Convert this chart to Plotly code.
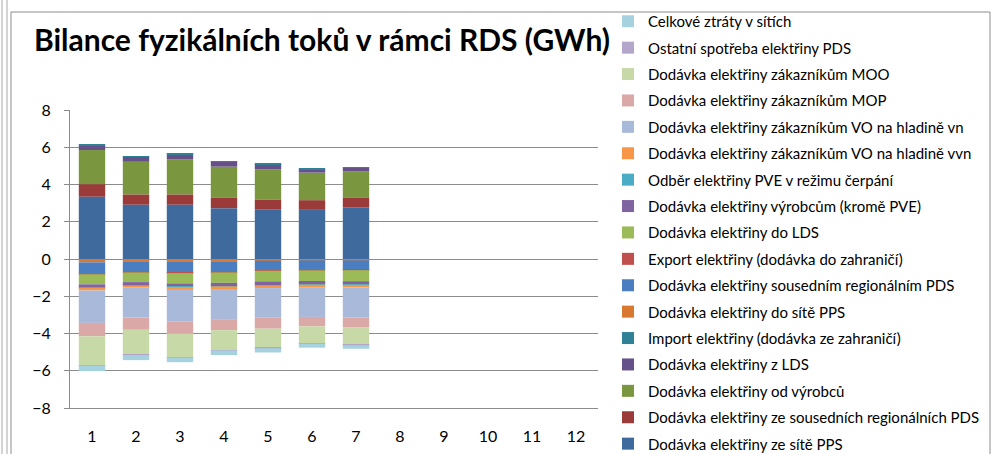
import plotly.graph_objects as go

months = ["1", "2", "3", "4", "5", "6", "7", "8", "9", "10", "11", "12"]

# values for months 1-7 (GWh); months 8-12 have no data
ze_site_pps = [3.35, 2.92, 2.92, 2.73, 2.67, 2.64, 2.78]
ze_sousednich_pds = [0.67, 0.55, 0.55, 0.55, 0.53, 0.52, 0.53]
od_vyrobcu = [1.83, 1.75, 1.89, 1.68, 1.62, 1.48, 1.39]
z_lds = [0.26, 0.27, 0.27, 0.27, 0.27, 0.18, 0.20]
import_ze_zahranici = [0.03, 0.03, 0.03, 0.03, 0.03, 0.03, 0.03]
do_site_pps = [-0.18, -0.12, -0.12, -0.12, -0.09, -0.07, -0.07]
sousednim_pds = [-0.63, -0.59, -0.63, -0.59, -0.53, -0.53, -0.52]
export_do_zahranici = [-0.01, -0.01, -0.01, -0.01, -0.01, -0.01, -0.01]
do_lds = [-0.54, -0.52, -0.55, -0.56, -0.57, -0.57, -0.59]
vyrobcum = [-0.18, -0.18, -0.18, -0.18, -0.21, -0.19, -0.19]
odber_pve = [-0.01, -0.01, -0.01, -0.01, -0.01, -0.01, -0.01]
vo_vvn = [-0.14, -0.11, -0.16, -0.14, -0.14, -0.16, -0.14]
vo_vn = [-1.74, -1.60, -1.69, -1.62, -1.57, -1.57, -1.62]
mop = [-0.72, -0.66, -0.64, -0.59, -0.61, -0.51, -0.53]
moo = [-1.55, -1.34, -1.28, -1.07, -1.03, -0.91, -0.93]
ostatni_spotreba = [-0.02, -0.02, -0.02, -0.02, -0.02, -0.02, -0.02]
celkove_ztraty = [-0.30, -0.27, -0.25, -0.25, -0.23, -0.21, -0.19]

series = [
    ("Dodávka elektřiny ze sítě PPS", ze_site_pps, "#3E6A9E"),
    ("Dodávka elektřiny ze sousedních regionálních PDS", ze_sousednich_pds, "#9B3B39"),
    ("Dodávka elektřiny od výrobců", od_vyrobcu, "#7A963F"),
    ("Dodávka elektřiny z LDS", z_lds, "#65508A"),
    ("Import elektřiny (dodávka ze zahraničí)", import_ze_zahranici, "#2F8196"),
    ("Dodávka elektřiny do sítě PPS", do_site_pps, "#D9792F"),
    ("Dodávka elektřiny sousedním regionálním PDS", sousednim_pds, "#4A7EC0"),
    ("Export elektřiny (dodávka do zahraničí)", export_do_zahranici, "#C0504D"),
    ("Dodávka elektřiny do LDS", do_lds, "#9BBB59"),
    ("Dodávka elektřiny výrobcům (kromě PVE)", vyrobcum, "#8064A2"),
    ("Odběr elektřiny PVE v režimu čerpání", odber_pve, "#4BACC6"),
    ("Dodávka elektřiny zákazníkům VO na hladině vvn", vo_vvn, "#F79646"),
    ("Dodávka elektřiny zákazníkům VO na hladině vn", vo_vn, "#A9B9DA"),
    ("Dodávka elektřiny zákazníkům MOP", mop, "#D9A8A7"),
    ("Dodávka elektřiny zákazníkům MOO", moo, "#C8D9A8"),
    ("Ostatní spotřeba elektřiny PDS", ostatni_spotreba, "#B3A6CA"),
    ("Celkové ztráty v sítích", celkove_ztraty, "#A6D1DE"),
]

fig = go.Figure()
n = len(series)
for i, (name, vals, color) in enumerate(series):
    y = list(vals) + [None] * (len(months) - len(vals))
    fig.add_trace(go.Bar(
        x=months, y=y, name=name, marker_color=color,
        marker_line_width=0, legendgroup=str(i), legendrank=n - i,
    ))

W, H = 993, 454
L, R, T, B = 70, 395, 110, 46
pw, ph = W - L - R, H - T - B

def px(x):
    return (x - L) / pw

def py(y):
    return (H - B - y) / ph

line_col = "#A6A6A6"
shapes = [
    dict(type="line", xref="paper", yref="paper", x0=px(2), x1=px(2), y0=py(0), y1=py(H),
         line=dict(color=line_col, width=1)),
    dict(type="line", xref="paper", yref="paper", x0=px(7), x1=px(7), y0=py(0), y1=py(H),
         line=dict(color=line_col, width=1)),
    dict(type="rect", xref="paper", yref="paper", x0=px(11), x1=px(990), y0=py(12), y1=py(H + 5),
         line=dict(color="#8C8C8C", width=1)),
]

fig.update_layout(
    width=W, height=H,
    margin=dict(l=L, r=R, t=T, b=B, autoexpand=False),
    barmode="relative",
    bargap=0.40,
    paper_bgcolor="white",
    plot_bgcolor="white",
    font=dict(family="Lato, 'Open Sans', sans-serif", color="#000000"),
    title=dict(
        text="<b>Bilance fyzikálních toků v rámci RDS (GWh)</b>",
        x=322 / W, xanchor="center",
        y=1 - 40 / H, yanchor="middle",
        font=dict(size=30, family="Lato, 'Open Sans', sans-serif", color="#000000"),
    ),
    xaxis=dict(
        type="category", categoryorder="array", categoryarray=months,
        showgrid=False, showline=True, linecolor="#8C8C8C",
        ticks="", tickfont=dict(size=16), ticklabelstandoff=14,
        automargin=False,
    ),
    yaxis=dict(
        range=[-8, 8], dtick=2, tick0=-8,
        showgrid=True, gridcolor="#8C8C8C", gridwidth=1,
        zeroline=True, zerolinecolor="#8C8C8C", zerolinewidth=1,
        showline=True, linecolor="#8C8C8C",
        ticks="outside", ticklen=5, tickcolor="#8C8C8C",
        tickfont=dict(size=16), ticklabelstandoff=10,
        automargin=False,
    ),
    legend=dict(
        x=px(608), xanchor="left", y=py(5), yanchor="top",
        traceorder="grouped", tracegroupgap=3.9,
        font=dict(size=15, family="Lato, 'Open Sans', sans-serif"),
        bgcolor="rgba(0,0,0,0)", maxheight=700,
    ),
    shapes=shapes,
    showlegend=True,
)

fig.write_html("out.html", config={"displayModeBar": False},
               post_script="document.body.style.margin='0';")
